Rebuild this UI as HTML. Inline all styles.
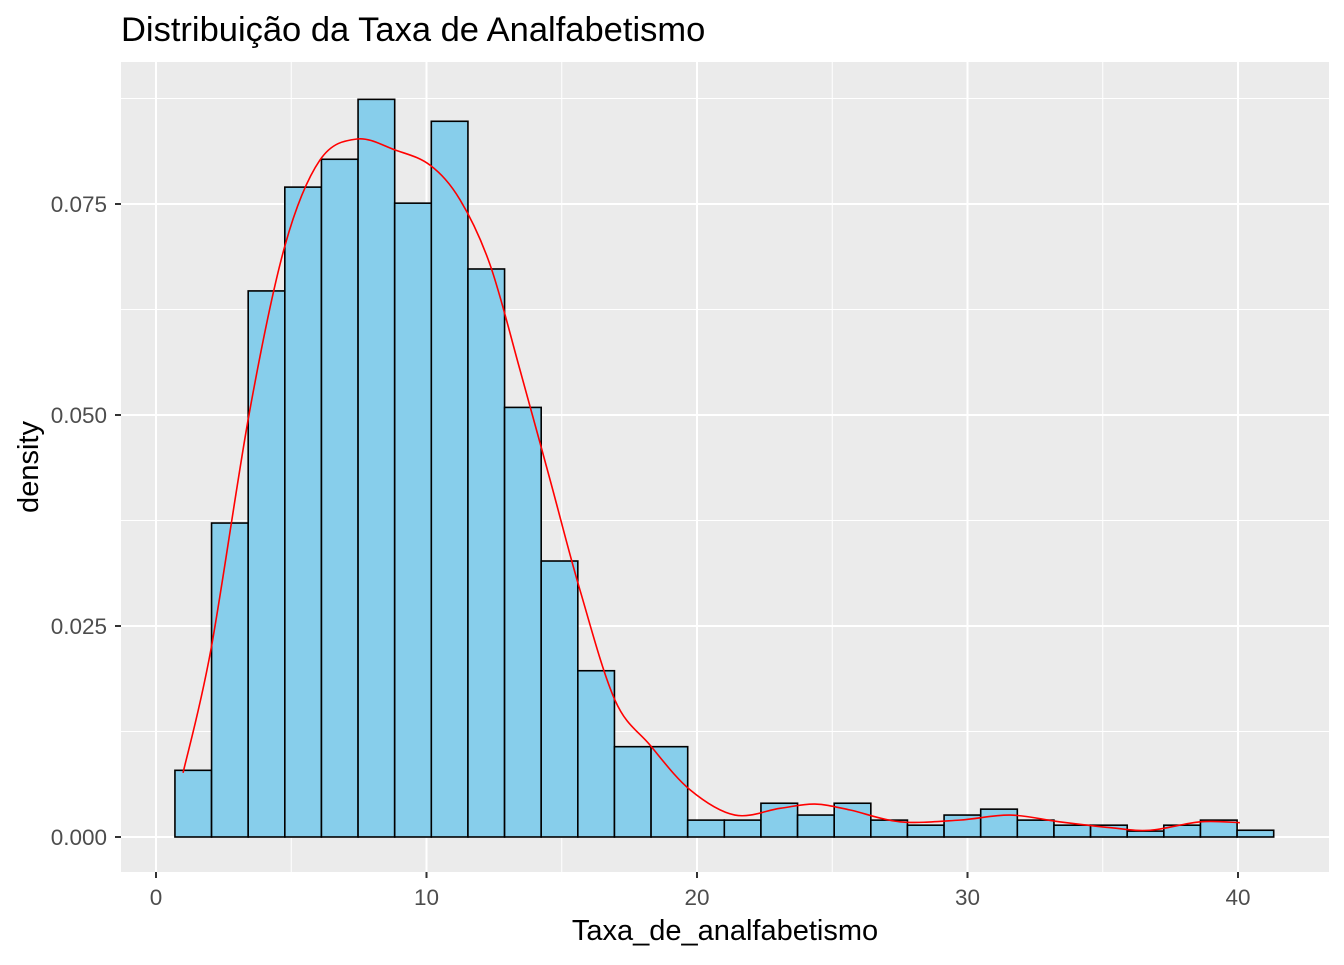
<!DOCTYPE html>
<html><head><meta charset="utf-8"><style>
body{margin:0;background:#fff;}
svg text{font-family:"Liberation Sans",Arial,sans-serif;}
</style></head><body>
<svg id="chart" width="1344" height="960" xmlns="http://www.w3.org/2000/svg">
<text x="121" y="41" font-size="34.5" fill="#000">Distribuição da Taxa de Analfabetismo</text>
<rect x="121" y="62" width="1208" height="810" fill="#EBEBEB"/>
<g id="grid"></g><g id="bars"></g><g id="curve"></g><g id="axes"></g>
<text x="725" y="940" font-size="29" text-anchor="middle" fill="#000">Taxa_de_analfabetismo</text>
<text x="0" y="0" font-size="29" text-anchor="middle" fill="#000" transform="translate(38,467) rotate(-90)">density</text>
</svg>
<script>
const binStart = 0.70, binWidth = 1.354;
const densities = [0.0079,0.0372,0.0647,0.0770,0.0803,0.0874,0.0751,0.0848,0.0673,0.0509,0.0327,0.0197,0.0107,0.0107,0.0020,0.0020,0.0040,0.0026,0.0040,0.0020,0.0014,0.0026,0.0033,0.0020,0.0014,0.0014,0.0007,0.0014,0.0020,0.0008];
const curveX = [1.0,2.03,3.47,4.77,6.06,7.43,8.84,10.13,11.24,12.35,13.46,14.57,15.67,16.97,18.26,19.74,21.4,23.07,24.36,25.66,27.5,29.7,31.57,33.4,35.3,36.75,38.6,40.07];
const curveY = [0.0076,0.0222,0.0506,0.0701,0.0802,0.0827,0.0814,0.0796,0.0755,0.0678,0.0553,0.0423,0.0293,0.0162,0.0109,0.0056,0.0026,0.0034,0.0039,0.0032,0.0018,0.0020,0.0026,0.0018,0.0011,0.0008,0.0018,0.0017];
const xTicks = [0,10,20,30,40];
const xMinor = [5,15,25,35];
const yTicks = [0,0.025,0.05,0.075];
const yTickLabels = ["0.000","0.025","0.050","0.075"];
const yMinor = [0.0125,0.0375,0.0625,0.0875];

const NS="http://www.w3.org/2000/svg";
const X = v => 156 + v*27.05;
const Y = v => 837 - v*8440;
function mk(tag, attrs, parent){const e=document.createElementNS(NS,tag);for(const k in attrs)e.setAttribute(k,attrs[k]);parent.appendChild(e);return e;}
const grid=document.getElementById('grid'), bars=document.getElementById('bars'), curve=document.getElementById('curve'), axes=document.getElementById('axes');
xMinor.forEach(v=>{const l=mk('line',{x1:X(v),x2:X(v),y1:62,y2:872,stroke:'#fff','stroke-width':1},grid);

});
yMinor.forEach(v=>{const l=mk('line',{x1:121,x2:1329,y1:Y(v),y2:Y(v),stroke:'#fff','stroke-width':1},grid);

});
xTicks.forEach(v=>{const l=mk('line',{x1:X(v),x2:X(v),y1:62,y2:872,stroke:'#fff','stroke-width':2},grid);


const t=mk('line',{x1:X(v),x2:X(v),y1:872,y2:878,stroke:'#333','stroke-width':2},axes);


const tx=mk('text',{x:X(v),y:905,'font-size':22.5,'text-anchor':'middle',fill:'#4D4D4D'},axes);tx.textContent=v;

});
yTicks.forEach((v,i)=>{const l=mk('line',{x1:121,x2:1329,y1:Y(v),y2:Y(v),stroke:'#fff','stroke-width':2},grid);


const t=mk('line',{x1:115,x2:121,y1:Y(v),y2:Y(v),stroke:'#333','stroke-width':2},axes);


const tx=mk('text',{x:107,y:Y(v)+8,'font-size':22.5,'text-anchor':'end',fill:'#4D4D4D'},axes);tx.textContent=yTickLabels[i];

});
densities.forEach((d,i)=>{const x0=X(binStart+i*binWidth),x1=X(binStart+(i+1)*binWidth);
const r=mk('rect',{x:x0,y:Y(d),width:x1-x0,height:Y(0)-Y(d),fill:'#87CEEB',stroke:'#000','stroke-width':1.6},bars);

});
const pts=curveX.map((x,i)=>[X(x),Y(curveY[i])]);
let d='M'+pts[0][0]+','+pts[0][1];
for(let i=0;i<pts.length-1;i++){const p0=pts[i-1]||pts[i],p1=pts[i],p2=pts[i+1],p3=pts[i+2]||p2;
d+=` C${p1[0]+(p2[0]-p0[0])/6},${p1[1]+(p2[1]-p0[1])/6} ${p2[0]-(p3[0]-p1[0])/6},${p2[1]-(p3[1]-p1[1])/6} ${p2[0]},${p2[1]}`;}
const c=mk('path',{d:d,fill:'none',stroke:'#FF0000','stroke-width':1.6},curve);


</script>
</body></html>
